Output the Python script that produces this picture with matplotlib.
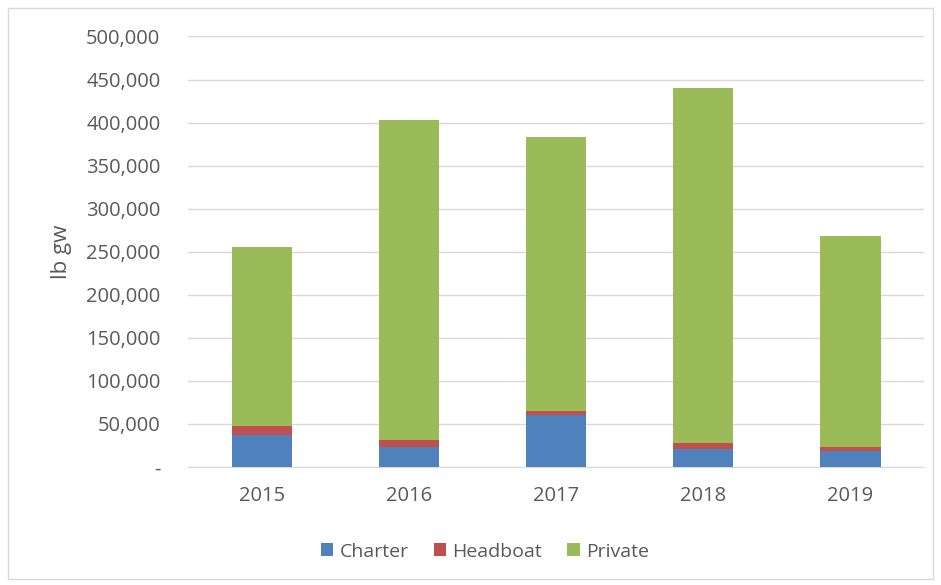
import matplotlib.pyplot as plt
from matplotlib.patches import Rectangle
from matplotlib.ticker import FuncFormatter

years = ['2015', '2016', '2017', '2018', '2019']
charter = [37500, 22800, 60300, 21200, 18200]
headboat = [10100, 8500, 5000, 6600, 5000]
private = [207400, 371300, 318000, 412700, 245300]

plt.rcParams['font.family'] = ['Open Sans', 'DejaVu Sans']

fig = plt.figure(figsize=(9.41, 5.85), dpi=100)
ax = fig.add_axes([0.2, 0.2017, 0.782, 0.736])

x = range(len(years))
w = 0.41
bottom2 = [c + h for c, h in zip(charter, headboat)]
ax.bar(x, charter, w, color='#4f81bd', label='Charter', zorder=3)
ax.bar(x, headboat, w, bottom=charter, color='#c0504d', label='Headboat', zorder=3)
ax.bar(x, private, w, bottom=bottom2, color='#9bbb59', label='Private', zorder=3)

ax.set_ylim(0, 500000)
ax.set_xlim(-0.5, 4.5)
ax.set_yticks(range(0, 500001, 50000))
ax.yaxis.set_major_formatter(FuncFormatter(lambda v, p: '-' if v == 0 else f'{int(v):,}'))
ax.set_xticks(list(x))
ax.set_xticklabels(years)
ax.grid(axis='y', color='#d9d9d9', linewidth=1, zorder=0)
for s in ['top', 'right', 'left']:
    ax.spines[s].set_visible(False)
ax.spines['bottom'].set_color('#d9d9d9')
ax.tick_params(length=0, labelsize=14.5, colors='#595959')
ax.tick_params(axis='y', pad=20)
ax.tick_params(axis='x', pad=14)
ax.set_ylabel('lb gw', fontsize=16, color='#595959', labelpad=10)

ax.legend(loc='upper center', bbox_to_anchor=(0.403, -0.135), ncol=3, frameon=False,
          fontsize=14, labelcolor='#595959', handlelength=0.65, handleheight=0.65,
          handletextpad=0.3, columnspacing=1.3)

fig.patches.append(Rectangle((8 / 941, 6 / 585), 925 / 941, 571 / 585, transform=fig.transFigure,
                             fill=False, edgecolor='#d9d9d9', linewidth=1))

fig.savefig('out.png', dpi=100)
